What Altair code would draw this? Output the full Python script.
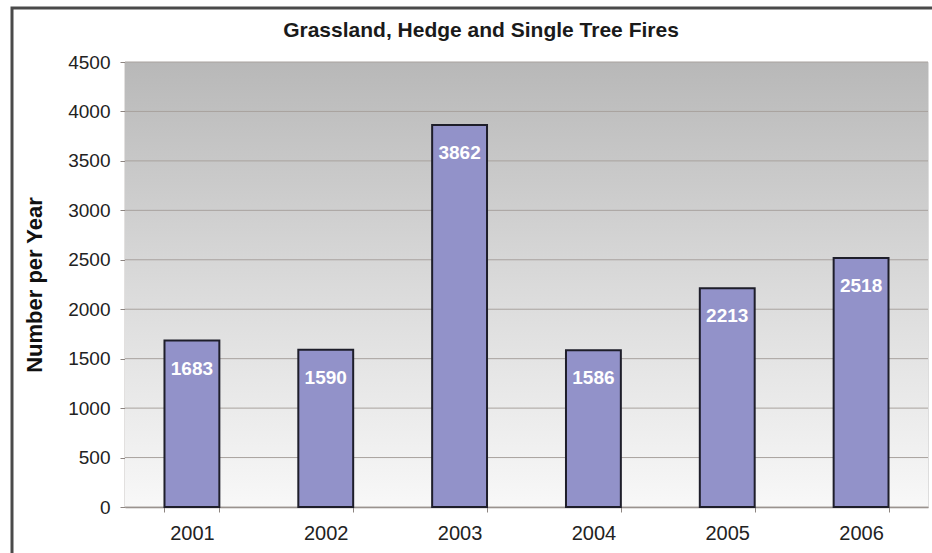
import altair as alt
import pandas as pd

# Yearly counts of grassland, hedge and single tree fires
years = ["2001", "2002", "2003", "2004", "2005", "2006"]
fires = [1683, 1590, 3862, 1586, 2213, 2518]
y_ticks = [0, 500, 1000, 1500, 2000, 2500, 3000, 3500, 4000, 4500]
title_text = "Grassland, Hedge and Single Tree Fires"

FONT = "Liberation Sans"
W, H = 803, 445

bars_df = pd.DataFrame({"year": years, "fires": fires})
grid_df = pd.DataFrame({"value": y_ticks})
panel_df = pd.DataFrame({"k": [0]})

x_scale = alt.Scale(domain=years, paddingInner=0.59, paddingOuter=0.295)
y_scale = alt.Scale(domain=[0, 4500], nice=False)

# grey-to-white gradient behind the plot area
backdrop = alt.Chart(panel_df).mark_rect(
    color=alt.LinearGradient(
        gradient="linear",
        x1=0, x2=0, y1=0, y2=1,
        stops=[
            alt.GradientStop(offset=0, color="#b8b8b8"),
            alt.GradientStop(offset=0.5, color="#dadada"),
            alt.GradientStop(offset=1, color="#f8f8f8"),
        ],
    )
).encode(x=alt.value(0), x2=alt.value(W), y=alt.value(0), y2=alt.value(H))

# outer frame around the whole figure
frame = alt.Chart(panel_df).mark_rect(
    fill=None, stroke="#4a4a4a", strokeWidth=3, clip=False
).encode(x=alt.value(-113), x2=alt.value(W + 40), y=alt.value(-54), y2=alt.value(H + 80))

# heading, centred over the framed figure
heading = alt.Chart(panel_df).mark_text(
    font=FONT, fontSize=21, fontWeight="bold", color="#1a1a1a",
    align="center", baseline="middle", clip=False,
).encode(x=alt.value(356), y=alt.value(-31), text=alt.value(title_text))

grid = alt.Chart(grid_df).mark_rule(color="#a8a29e", strokeWidth=1).encode(
    y=alt.Y("value:Q", scale=y_scale)
)

base = alt.Chart(bars_df).encode(
    x=alt.X(
        "year:N",
        scale=x_scale,
        sort=years,
        axis=alt.Axis(
            title=None,
            labelFont=FONT,
            labelFontSize=20,
            labelColor="#222222",
            labelAngle=0,
            labelBaseline="middle",
            labelPadding=21,
            tickBand="extent",
            tickSize=5,
            tickColor="#8c8480",
            domainColor="#8c8480",
            domainWidth=1.5,
        ),
    ),
    y=alt.Y(
        "fires:Q",
        scale=y_scale,
        axis=alt.Axis(
            title="Number per Year",
            titleFont=FONT,
            titleFontSize=22,
            titleFontWeight="bold",
            titleColor="#111111",
            titleX=-91,
            titleBaseline="middle",
            values=y_ticks,
            format="d",
            labelFont=FONT,
            labelFontSize=19,
            labelColor="#222222",
            labelPadding=10,
            tickSize=5,
            tickColor="#8c8480",
            domainColor="#8c8480",
            domainWidth=1.5,
            grid=False,
        ),
    ),
)

bars = base.mark_bar(color="#9292c9", stroke="#1e1e2a", strokeWidth=2)

labels = base.mark_text(
    font=FONT, fontSize=19, fontWeight="bold", color="white", baseline="middle", dy=28
).encode(text="fires:Q")

chart = (
    alt.layer(backdrop, grid, bars, labels, heading, frame)
    .properties(
        width=W,
        height=H,
        autosize=alt.AutoSizeParams(type="none"),
        padding={"left": 125, "top": 62, "right": 4, "bottom": 46},
    )
    .configure_view(stroke="#8c8480", strokeWidth=1.5)
    .configure(background="white")
)

chart.save("out.html", embed_options={"renderer": "svg", "actions": False})
